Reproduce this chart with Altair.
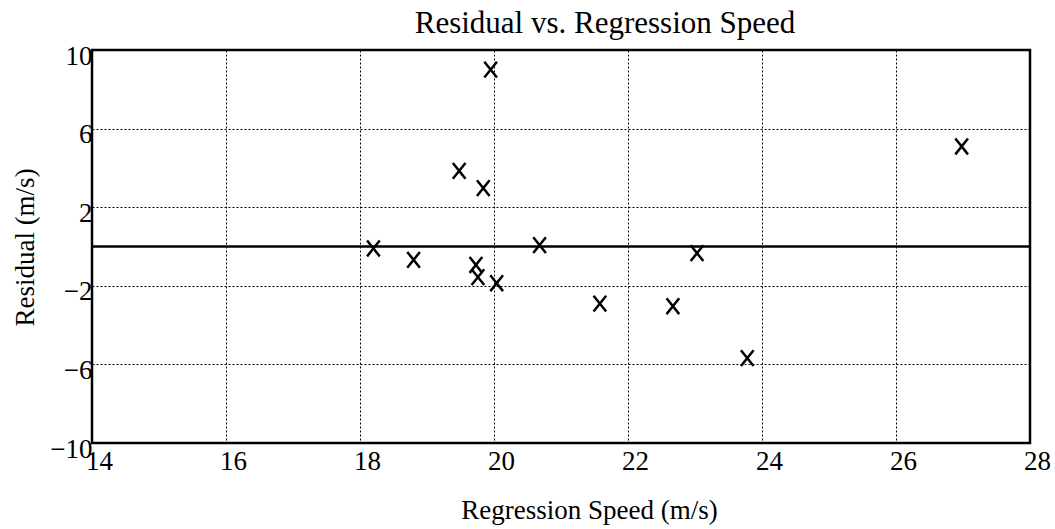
import altair as alt
import pandas as pd

# Data
speed = [19.95, 19.48, 19.84, 18.20, 18.80, 19.73, 19.76, 20.04, 20.68, 21.58, 22.67, 23.03, 23.78, 26.98]
residual = [9.0, 3.85, 2.97, -0.10, -0.68, -0.94, -1.56, -1.87, 0.07, -2.91, -3.04, -0.34, -5.68, 5.09]
x_ticks = [14, 16, 18, 20, 22, 24, 26, 28]
y_ticks = [-10, -6, -2, 2, 6, 10]
x_domain = [14, 28]
y_domain = [-10, 10]
zero_line = [0]

FONT = "Liberation Serif"

df = pd.DataFrame({"speed": speed, "residual": residual})
zdf = pd.DataFrame({"r": zero_line})

x_axis = alt.Axis(
    values=x_ticks, format="d", title="Regression Speed (m/s)", domain=False, ticks=False, tickSize=0,
    labelFont=FONT, labelFontSize=27, labelColor="black", labelPadding=5, labelOffset=7,
    labelBaseline="top", labelFlush=False, labelOverlap=False,
    titleFont=FONT, titleFontSize=27, titleFontWeight="normal", titleColor="black",
    titleX=497, titleY=75, titleBaseline="alphabetic", titleAlign="center",
    grid=True, gridColor="black", gridDash=[2, 2], gridWidth=1, gridOpacity=1,
)
y_axis = alt.Axis(
    values=y_ticks, format="d", title="Residual (m/s)", domain=False, ticks=False, tickSize=0,
    labelFont=FONT, labelFontSize=27, labelColor="black", labelPadding=0, labelOffset=6,
    labelFlush=False, labelOverlap=False,
    titleFont=FONT, titleFontSize=27, titleFontWeight="normal", titleColor="black",
    titleX=-59, titleY=197, titleAngle=-90, titleBaseline="alphabetic", titleAlign="center",
    grid=True, gridColor="black", gridDash=[2, 2], gridWidth=1, gridOpacity=1,
)

xs = alt.Scale(domain=x_domain, nice=False, zero=False)
ys = alt.Scale(domain=y_domain, nice=False, zero=False)

points = alt.Chart(df).mark_point(
    shape="M-0.8,-1L0.8,1M-0.8,1L0.8,-1", filled=False, stroke="black",
    strokeWidth=2.5, size=250, opacity=1,
).encode(
    x=alt.X("speed:Q", scale=xs, axis=x_axis),
    y=alt.Y("residual:Q", scale=ys, axis=y_axis),
)

zero = alt.Chart(zdf).mark_rule(color="black", strokeWidth=2.5).encode(
    y=alt.Y("r:Q", scale=ys),
)

frame = alt.Chart(zdf).mark_rect(fillOpacity=0, stroke="black", strokeWidth=2.5).encode(
    x=alt.datum(x_domain[0], scale=xs), x2=alt.datum(x_domain[1]),
    y=alt.datum(y_domain[0], scale=ys), y2=alt.datum(y_domain[1]),
)

chart = alt.layer(zero, points, frame).properties(
    width=938, height=393,
    autosize=alt.AutoSizeParams(type="none"),
    padding={"left": 92, "top": 50, "right": 25, "bottom": 86},
    title=alt.TitleParams(
        "Residual vs. Regression Speed", font=FONT, fontSize=31, fontWeight="normal",
        color="black", anchor="middle", dx=44, dy=39, offset=17, baseline="alphabetic",
    ),
).configure_view(stroke=None).configure(background="white")

chart.save("out.html", embed_options={"renderer": "svg", "actions": False})
